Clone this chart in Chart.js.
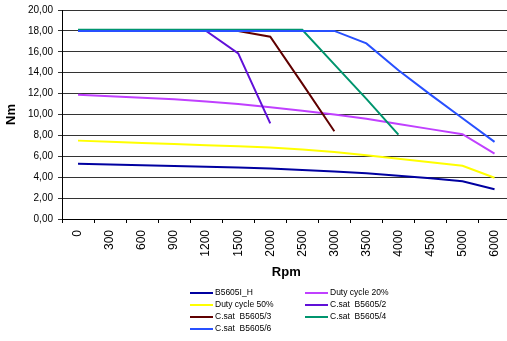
<!DOCTYPE html>
<html>
<head>
<meta charset="utf-8">
<script src="https://cdn.jsdelivr.net/npm/chart.js@4/dist/chart.umd.min.js"></script>
<style>
  html, body { margin: 0; padding: 0; background: #fff; overflow: hidden; }
  #wrap { position: relative; width: 507px; height: 341px; overflow: hidden; }
  #chart { position: absolute; left: 0; top: 0; }
  #legend { position: absolute; left: 0; top: 0; width: 507px; height: 341px; pointer-events: none;
            font-family: "Liberation Sans", Arial, sans-serif; font-size: 8.5px; color: #000; }
  .item { position: absolute; height: 10px; white-space: pre; }
  .swatch { position: absolute; left: 0; top: 4px; width: 23px; height: 2px; }
  .label { position: absolute; left: 25px; top: -1px; line-height: 11px; white-space: pre; }
</style>
</head>
<body>
<div id="wrap">
  <canvas id="chart" width="516" height="341"></canvas>
  <div id="legend"></div>
</div>
<script>
// Speed categories (rpm) along the x axis
const rpm = ['0', '300', '600', '900', '1200', '1500', '2000', '2500', '3000', '3500', '4000', '4500', '5000', '6000'];

// Torque curves (Nm) per speed category; null = curve not defined there
const b5605iH   = [5.28, 5.22, 5.15, 5.08, 5.00, 4.93, 4.83, 4.70, 4.55, 4.38, 4.15, 3.90, 3.62, 2.84];
const duty20    = [11.90, 11.75, 11.60, 11.45, 11.25, 11.00, 10.70, 10.35, 10.00, 9.60, 9.10, 8.60, 8.12, 6.25];
const duty50    = [7.50, 7.40, 7.28, 7.17, 7.06, 6.96, 6.84, 6.65, 6.42, 6.10, 5.77, 5.43, 5.10, 3.95];
const csat2     = [18, 18, 18, 18, 18, 15.85, 9.15, null, null, null, null, null, null, null];
const csat3     = [18, 18, 18, 18, 18, 18, 17.45, 12.95, 8.40, null, null, null, null, null];
const csat4     = [18.1, 18.1, 18.1, 18.1, 18.1, 18.1, 18.1, 18.1, 14.80, 11.50, 8.07, null, null, null];
const csat6     = [18, 18, 18, 18, 18, 18, 18, 18, 18, 16.80, 14.23, 11.90, 9.64, 7.38];

const seriesNames  = ['B5605I_H', 'Duty cycle 20%', 'Duty cycle 50%', 'C.sat  B5605/2', 'C.sat  B5605/3', 'C.sat  B5605/4', 'C.sat  B5605/6'];
const seriesData   = [b5605iH, duty20, duty50, csat2, csat3, csat4, csat6];
const seriesColors = ['#0000A0', '#C040FF', '#FFFF00', '#6010D8', '#600000', '#00956E', '#2850FF'];

const FONT = "'Liberation Sans', Arial, sans-serif";

const datasets = seriesNames.map((name, i) => ({
  label: name,
  data: seriesData[i],
  borderColor: seriesColors[i],
  backgroundColor: seriesColors[i],
  borderWidth: 2,
  pointRadius: 0,
  tension: 0,
  fill: false,
  spanGaps: false,
  order: seriesNames.length - i   // later series paint over earlier ones
}));

new Chart(document.getElementById('chart'), {
  type: 'line',
  data: { labels: rpm, datasets },
  options: {
    responsive: false,
    devicePixelRatio: 1,
    animation: false,
    layout: { padding: { top: 0, right: 2, bottom: 59, left: 0 } },
    plugins: { legend: { display: false }, tooltip: { enabled: false } },
    scales: {
      x: {
        type: 'category',
        offset: true,
        grid: { offset: true, drawOnChartArea: false, drawTicks: true, tickLength: 4, color: '#000' },
        border: { color: '#000', width: 1 },
        ticks: { color: '#000', font: { family: FONT, size: 12 }, minRotation: 90, maxRotation: 90, padding: 7, autoSkip: false },
        title: { display: true, text: 'Rpm', color: '#000', font: { family: FONT, size: 13, weight: 'bold' }, padding: { top: 2, bottom: 2 } },
        afterFit: (s) => { s.height = 282 - 219; }
      },
      y: {
        min: 0,
        max: 20,
        grid: { color: '#333', lineWidth: 1, drawTicks: true, tickLength: 4 },
        border: { color: '#000', width: 1 },
        ticks: { stepSize: 2, color: '#000', font: { family: FONT, size: 10, lineHeight: 1.0 }, padding: 5,
                 callback: (v) => Number(v).toFixed(2).replace('.', ',') },
        title: { display: true, text: 'Nm', color: '#000', font: { family: FONT, size: 13, weight: 'bold' }, padding: { top: 4, bottom: 0 } },
        afterFit: (s) => { s.width = 62; }
      }
    }
  }
});

// Two-column legend under the chart
const legendSlots = [[190, 288], [305, 288], [190, 300], [305, 300], [190, 312], [305, 312], [190, 324]];
const legend = document.getElementById('legend');
seriesNames.forEach((name, i) => {
  const item = document.createElement('div');
  item.className = 'item';
  item.style.left = legendSlots[i][0] + 'px';
  item.style.top = legendSlots[i][1] + 'px';
  const sw = document.createElement('div');
  sw.className = 'swatch';
  sw.style.background = seriesColors[i];
  const tx = document.createElement('div');
  tx.className = 'label';
  tx.textContent = name;
  item.appendChild(sw);
  item.appendChild(tx);
  legend.appendChild(item);
});
</script>
</body>
</html>
